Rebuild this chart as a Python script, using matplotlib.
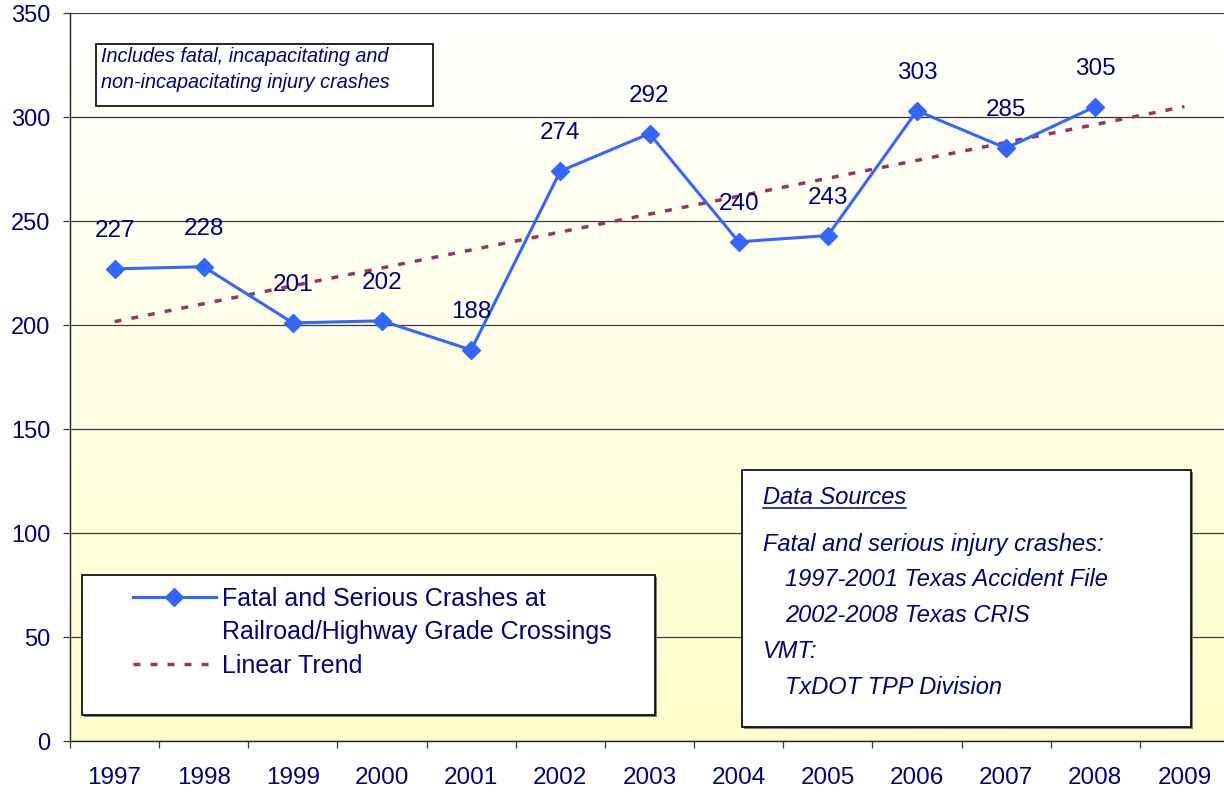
import numpy as np
import matplotlib
matplotlib.use("Agg")
import matplotlib.pyplot as plt
import matplotlib.transforms as mtransforms
from matplotlib.patches import Rectangle
from matplotlib.lines import Line2D
from matplotlib.colors import to_rgb

# ---- data ----
years = ["1997", "1998", "1999", "2000", "2001", "2002", "2003",
         "2004", "2005", "2006", "2007", "2008", "2009"]
crashes = [227, 228, 201, 202, 188, 274, 292, 240, 243, 303, 285, 305]
y_ticks = [0, 50, 100, 150, 200, 250, 300, 350]

series_label = ["Fatal and Serious Crashes at",
                "Railroad/Highway Grade Crossings"]
trend_label = "Linear Trend"
note_lines = ["Includes fatal, incapacitating and",
              "non-incapacitating injury crashes"]
source_heading = "Data Sources"
source_lines = [("Fatal and serious injury crashes:", 0),
                ("1997-2001 Texas Accident File", 1),
                ("2002-2008 Texas CRIS", 1),
                ("VMT:", 0),
                ("TxDOT TPP Division", 1)]

# ---- style ----
NAVY = "#000080"
BLUE = "#3366FF"
TREND = "#993366"
GRID = "#3a3a3a"

plt.rcParams['font.family'] = ['Liberation Sans', 'DejaVu Sans']

W, H = 1224, 794
fig = plt.figure(figsize=(W / 100, H / 100), dpi=100)
fig.patch.set_facecolor("white")

# pixel coordinates measured from the top-left corner of the figure
PX = mtransforms.Affine2D().scale(1 / W, -1 / H).translate(0, 1) + fig.transFigure

ax = fig.add_axes([70 / W, (H - 741) / H, 1159 / W, 728 / H])
ax.set_xlim(-0.5, len(years) - 0.5)
ax.set_ylim(0, 350)

# plot-area gradient: white at the top fading to pale yellow at the bottom
top_c = np.array(to_rgb("#FFFFFF"))
bot_c = np.array(to_rgb("#FFFFCC"))
t = np.linspace(0, 1, 256)[:, None]
grad = (top_c * (1 - t) + bot_c * t)[:, None, :].repeat(2, axis=1)
ax.imshow(grad, extent=(0, 1, 0, 1), transform=ax.transAxes,
          aspect="auto", zorder=0, interpolation="bilinear")
ax.patch.set_visible(False)

x_all = np.arange(len(years))
x_data = np.arange(len(crashes))

# linear trend fitted to the observed years, extended through the last category
coef = np.polyfit(x_data, crashes, 1)
trend = np.polyval(coef, x_all)

ax.plot(x_all, trend, color=TREND, lw=2.5, dashes=(2.0, 2.9),
        solid_capstyle="butt", dash_capstyle="butt", zorder=3)
ax.plot(x_data, crashes, color=BLUE, lw=2.2, marker="D", markersize=8.8,
        markerfacecolor=BLUE, markeredgecolor=BLUE, zorder=4)

for xi, v in zip(x_data, crashes):
    ax.annotate(str(v), (xi, v), xytext=(0, 27.4), textcoords="offset points",
                ha="center", va="center", fontsize=17.5, color=NAVY, zorder=5)

# axes, ticks and grid
ax.set_yticks(y_ticks)
ax.yaxis.grid(True, color=GRID, lw=0.9)
ax.set_axisbelow(True)
ax.tick_params(axis="y", direction="out", length=5, width=0.9, color=GRID,
               labelsize=17, labelcolor=NAVY, pad=9)

ax.set_xticks(np.arange(-0.5, len(years), 1.0))
ax.set_xticklabels([])
ax.set_xticks(x_all, minor=True)
ax.set_xticklabels(years, minor=True)
ax.tick_params(axis="x", which="major", direction="out", length=5, width=0.9,
               color=GRID)
ax.tick_params(axis="x", which="minor", length=0, labelsize=17.5,
               labelcolor=NAVY, pad=19)

for s in ("top", "right"):
    ax.spines[s].set_visible(False)
for s in ("left", "bottom"):
    ax.spines[s].set_color("#202020")
    ax.spines[s].set_linewidth(1.0)


def framed_box(x0, y0, x1, y1, shadow=False):
    if shadow:
        fig.add_artist(Rectangle((x0 + 2, y0 + 2), x1 - x0, y1 - y0,
                                 transform=PX, facecolor="#808080",
                                 edgecolor="none", zorder=5))
    fig.add_artist(Rectangle((x0, y0), x1 - x0, y1 - y0, transform=PX,
                             facecolor="white", edgecolor="black",
                             lw=1.2, zorder=6))


# note box
framed_box(96, 44, 433, 106)
for txt, yc in zip(note_lines, (57, 83)):
    fig.text(101, yc, txt, transform=PX, fontsize=14.3, style="italic",
             color=NAVY, va="center", ha="left", zorder=7)

# legend
framed_box(82, 575, 655, 715, shadow=True)
handles = [
    Line2D([], [], color=BLUE, lw=2.2, marker="D", markersize=8.8,
           markerfacecolor=BLUE, markeredgecolor=BLUE),
    Line2D([], [], color="none"),
    Line2D([], [], color=TREND, lw=2.5, dashes=(2.0, 2.9)),
]
labels = [series_label[0], series_label[1], trend_label]
leg = fig.legend(handles, labels, loc="upper left",
                 bbox_to_anchor=(133, 587), bbox_transform=PX,
                 frameon=False, fontsize=18, labelcolor=NAVY,
                 handlelength=3.3, handletextpad=0.25, borderpad=0,
                 borderaxespad=0, labelspacing=0.38)
leg.set_zorder(8)

# data sources box
framed_box(742, 470, 1191, 727, shadow=True)
head = fig.text(763, 497, source_heading, transform=PX, fontsize=17,
                style="italic", color=NAVY, va="center", ha="left", zorder=7)
for (txt, indent), yc in zip(source_lines, (545, 580, 615, 651, 687)):
    fig.text(763 + 22 * indent, yc, txt, transform=PX, fontsize=17,
             style="italic", color=NAVY, va="center", ha="left", zorder=7)

# underline the heading
fig.canvas.draw()
bb = head.get_window_extent()
inv = PX.inverted()
(ux0, _), (ux1, _) = inv.transform([[bb.x0, bb.y0], [bb.x1, bb.y0]])
fig.add_artist(Line2D([ux0, ux1], [508, 508], transform=PX, color=NAVY,
                      lw=1.1, zorder=7))

fig.savefig("out.png", dpi=100)
